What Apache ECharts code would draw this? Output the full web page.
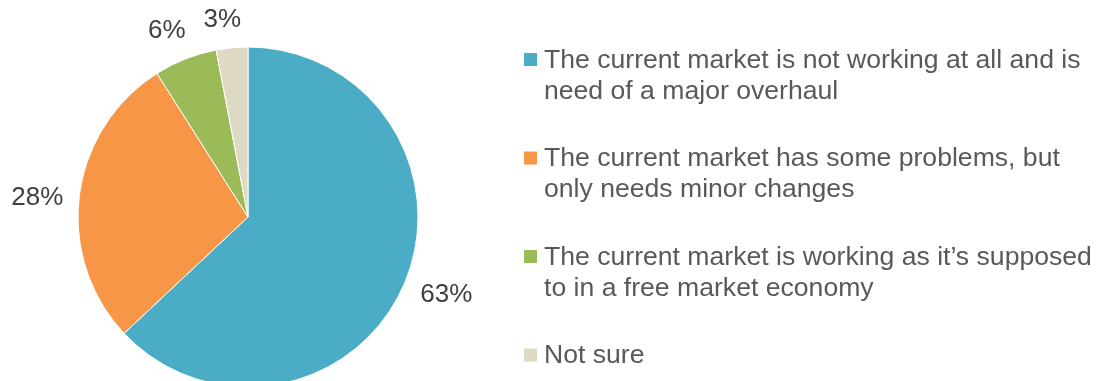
<!DOCTYPE html>
<html>
<head>
<meta charset="utf-8">
<style>
  html, body { margin: 0; padding: 0; background: #ffffff; }
  #chart { width: 1099px; height: 381px; }
</style>
<script src="https://cdn.jsdelivr.net/npm/echarts@6/dist/echarts.min.js"></script>
</head>
<body>
<div id="chart"></div>
<script>
// Survey answers, in drawing order (clockwise from 12 o'clock)
const categories = [
  'The current market is not working at all and is\nneed of a major overhaul',
  'The current market has some problems, but\nonly needs minor changes',
  'The current market is working as it\u2019s supposed\nto in a free market economy',
  'Not sure'
];
const shares = [63, 28, 6, 3];
const colors = ['#4BACC6', '#F79646', '#9BBB59', '#DDD9C3'];

const PIE_CX = 248, PIE_CY = 217, PIE_R = 170;
const LABEL_GAP = 14;     // space between rim and label box
const LABEL_SHIFT = -7;   // nudge along the rim (negative = counter-clockwise)
const LINE = 31;
const FONT = '"Liberation Sans", Arial, Helvetica, sans-serif';

// mid-angle of each slice (radians, clockwise from 12 o'clock)
const total = shares.reduce((a, b) => a + b, 0);
const midAngles = [];
shares.reduce((acc, v) => {
  midAngles.push((acc + v / 2) / total * Math.PI * 2);
  return acc + v;
}, 0);

const chart = echarts.init(document.getElementById('chart'), null, { renderer: 'canvas' });

chart.setOption({
  animation: false,
  color: colors,
  legend: {
    orient: 'vertical',
    left: 524,
    top: 45,
    height: 370,
    padding: 0,
    itemGap: 36.5,
    itemWidth: 15,
    itemHeight: 2 * LINE,
    // 13px square swatch level with the first text line of each two-line entry
    icon: 'path://M0,0h0.01v0.01h-0.01Z M0,8h13v13h-13Z M14.99,61.99h0.01v0.01h-0.01Z',
    itemStyle: { borderWidth: 0 },
    selectedMode: false,
    data: categories,
    formatter: name => name.indexOf('\n') >= 0 ? name : name + '\n ',
    textStyle: {
      fontFamily: FONT,
      fontSize: 26.6,
      lineHeight: LINE,
      color: '#595959'
    }
  },
  series: [{
    type: 'pie',
    center: [PIE_CX, PIE_CY],
    radius: [0, PIE_R],
    startAngle: 90,
    clockwise: true,
    avoidLabelOverlap: false,
    itemStyle: { borderColor: '#ffffff', borderWidth: 1 },
    label: {
      show: true,
      position: 'outside',
      formatter: p => p.value + '%',
      fontFamily: FONT,
      fontSize: 26,
      color: '#404040'
    },
    labelLine: { show: false },
    // value labels sit just past the rim, centred near each slice's bisector
    labelLayout: params => {
      const a = midAngles[params.dataIndex];
      const dx = Math.sin(a), dy = -Math.cos(a);
      const hw = params.labelRect.width / 2, hh = params.labelRect.height / 2;
      const d = PIE_R + LABEL_GAP + hw * Math.abs(dx) + hh * Math.abs(dy);
      return {
        x: PIE_CX + dx * d - dy * LABEL_SHIFT,
        y: PIE_CY + dy * d + dx * LABEL_SHIFT,
        align: 'center',
        verticalAlign: 'middle'
      };
    },
    emphasis: { disabled: true },
    data: categories.map((c, i) => ({ name: c, value: shares[i] }))
  }]
});
</script>
</body>
</html>
